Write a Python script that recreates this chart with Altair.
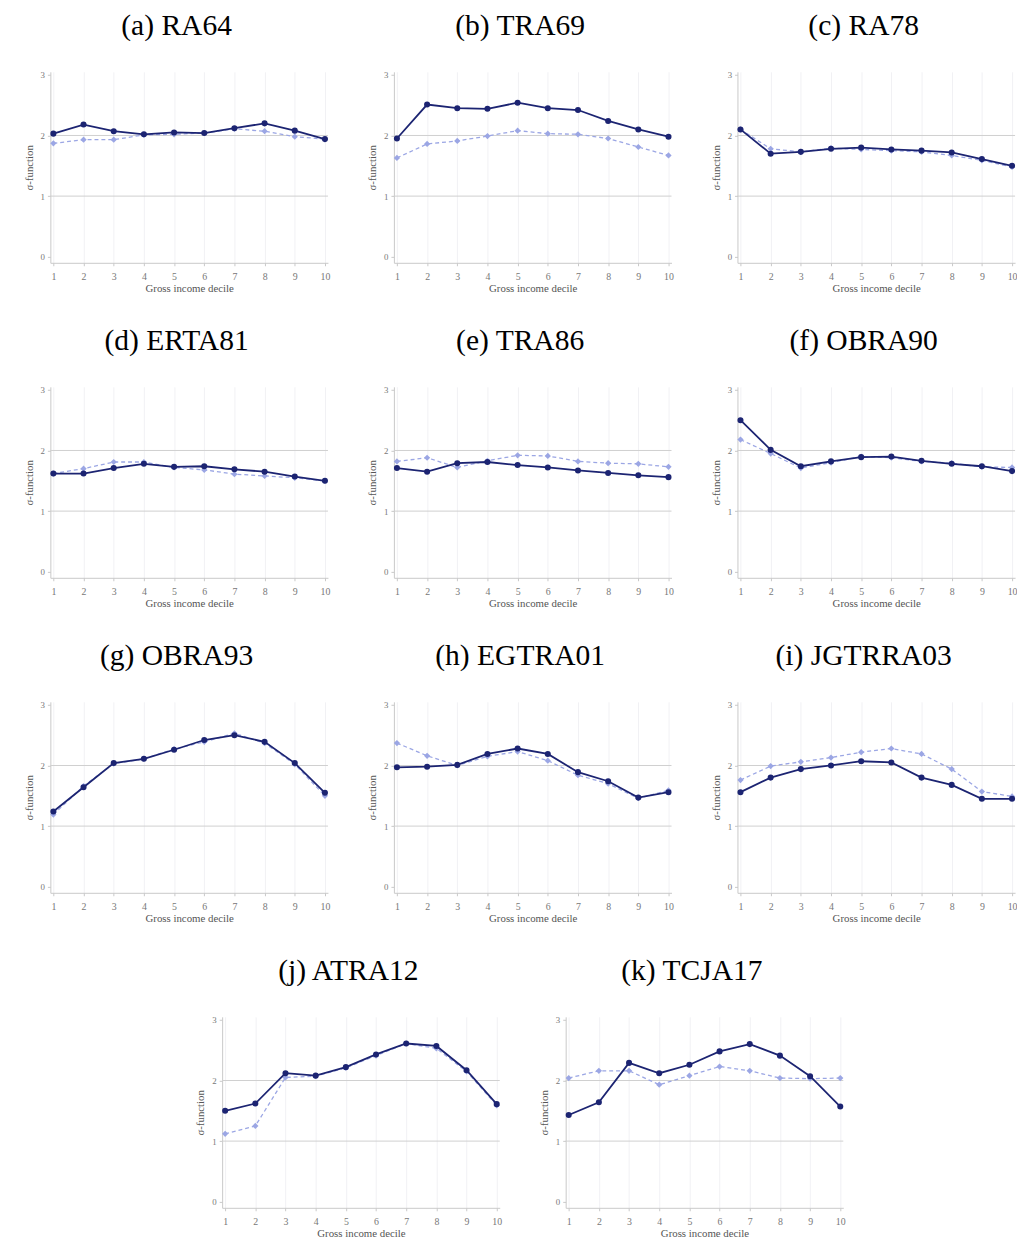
import altair as alt
import pandas as pd

deciles = list(range(1, 11))

titles = ["(a) RA64", "(b) TRA69", "(c) RA78", "(d) ERTA81", "(e) TRA86", "(f) OBRA90",
          "(g) OBRA93", "(h) EGTRA01", "(i) JGTRRA03", "(j) ATRA12", "(k) TCJA17"]

dark_a = [2.03, 2.18, 2.07, 2.02, 2.05, 2.04, 2.12, 2.20, 2.08, 1.94]
light_a = [1.87, 1.93, 1.93, 2.01, 2.02, 2.04, 2.11, 2.07, 1.98, 1.94]
dark_b = [1.95, 2.51, 2.45, 2.44, 2.54, 2.45, 2.42, 2.24, 2.10, 1.98]
light_b = [1.63, 1.86, 1.91, 1.99, 2.08, 2.03, 2.02, 1.95, 1.81, 1.67]
dark_c = [2.10, 1.70, 1.73, 1.78, 1.80, 1.77, 1.75, 1.72, 1.61, 1.50]
light_c = [2.10, 1.78, 1.73, 1.79, 1.77, 1.75, 1.73, 1.67, 1.59, 1.48]
dark_d = [1.62, 1.62, 1.71, 1.78, 1.73, 1.74, 1.69, 1.65, 1.57, 1.50]
light_d = [1.62, 1.70, 1.81, 1.81, 1.72, 1.68, 1.61, 1.58, 1.55, 1.50]
dark_e = [1.71, 1.65, 1.79, 1.81, 1.76, 1.72, 1.67, 1.63, 1.59, 1.56]
light_e = [1.82, 1.88, 1.72, 1.83, 1.92, 1.91, 1.82, 1.79, 1.78, 1.73]
dark_f = [2.50, 2.01, 1.74, 1.82, 1.89, 1.90, 1.83, 1.78, 1.74, 1.66]
light_f = [2.18, 1.95, 1.71, 1.80, 1.90, 1.88, 1.82, 1.79, 1.73, 1.72]
dark_g = [1.24, 1.64, 2.04, 2.11, 2.26, 2.42, 2.50, 2.39, 2.04, 1.55]
light_g = [1.19, 1.66, 2.03, 2.11, 2.27, 2.39, 2.53, 2.37, 2.02, 1.50]
dark_h = [1.97, 1.98, 2.01, 2.19, 2.28, 2.19, 1.89, 1.74, 1.47, 1.56]
light_h = [2.37, 2.16, 2.00, 2.15, 2.23, 2.08, 1.84, 1.70, 1.46, 1.59]
dark_i = [1.56, 1.80, 1.94, 2.00, 2.07, 2.05, 1.80, 1.68, 1.45, 1.45]
light_i = [1.76, 1.99, 2.06, 2.13, 2.22, 2.28, 2.19, 1.94, 1.57, 1.49]
dark_j = [1.50, 1.62, 2.12, 2.08, 2.22, 2.43, 2.61, 2.57, 2.17, 1.61]
light_j = [1.12, 1.25, 2.05, 2.07, 2.21, 2.41, 2.61, 2.53, 2.15, 1.59]
dark_k = [1.43, 1.64, 2.29, 2.12, 2.26, 2.48, 2.60, 2.41, 2.07, 1.57]
light_k = [2.04, 2.16, 2.16, 1.93, 2.08, 2.23, 2.16, 2.04, 2.03, 2.04]

ref_levels = [1, 2]

darks = [dark_a, dark_b, dark_c, dark_d, dark_e, dark_f, dark_g, dark_h, dark_i, dark_j, dark_k]
lights = [light_a, light_b, light_c, light_d, light_e, light_f, light_g, light_h, light_i, light_j, light_k]

DARK = "#1c2472"
LIGHT = "#9ba6e4"
SERIF = "Liberation Serif"
W, H = 282, 194


def panel(title, dark, light):
    df = pd.DataFrame({"x": deciles * 2, "y": dark + light,
                       "s": ["dark"] * 10 + ["light"] * 10})
    xenc = alt.X("x:Q", scale=alt.Scale(domain=[0.9, 10.1], nice=False, zero=False),
                 axis=alt.Axis(values=deciles, title="Gross income decile", grid=True,
                               gridColor="#f1f1f4", format="d", labelPadding=6,
                               labelFontSize=10, titleFontSize=11, titlePadding=1))
    yenc = alt.Y("y:Q", scale=alt.Scale(domain=[-0.1, 3.05], nice=False, zero=False),
                 axis=alt.Axis(values=[0, 1, 2, 3], title="σ-function", grid=False, format="d"))
    rules = alt.Chart(pd.DataFrame({"y": ref_levels})).mark_rule(
        color="#cfcfcf", strokeWidth=1).encode(y=yenc)
    dl = df[df.s == "light"]
    dd = df[df.s == "dark"]
    lline = alt.Chart(dl).mark_line(color=LIGHT, strokeWidth=1.3, strokeDash=[4, 3]).encode(x=xenc, y=yenc)
    lpts = alt.Chart(dl).mark_point(shape="diamond", filled=True, color=LIGHT, size=40, opacity=1).encode(x=xenc, y=yenc)
    dline = alt.Chart(dd).mark_line(color=DARK, strokeWidth=1.8).encode(x=xenc, y=yenc)
    dpts = alt.Chart(dd).mark_point(shape="circle", filled=True, color=DARK, size=38, opacity=1).encode(x=xenc, y=yenc)
    return alt.layer(rules, lline, lpts, dline, dpts).properties(
        width=W, height=H,
        title=alt.TitleParams(title, font=SERIF, fontSize=30, fontWeight="normal",
                              color="black", offset=30, frame="bounds", anchor="middle"))


panels = [panel(t, d, l) for t, d, l in zip(titles, darks, lights)]

rows = [alt.hconcat(*panels[i:i + 3], spacing=37) for i in range(0, 9, 3)]
rows.append(alt.hconcat(*panels[9:11], spacing=37))

chart = alt.vconcat(*rows, spacing=34, center=True).properties(
    padding={"left": 15, "top": -6, "right": 0, "bottom": 0}
).configure_view(stroke=None).configure_axis(
    labelFont=SERIF, titleFont=SERIF, labelFontSize=9, titleFontSize=11,
    labelColor="#777777", titleColor="#555555", titleFontWeight="normal",
    domainColor="#c8c8c8", tickColor="#c8c8c8", tickSize=3,
    labelPadding=3, titlePadding=6
)

chart.save("out.html", embed_options={"renderer": "svg", "actions": False})
